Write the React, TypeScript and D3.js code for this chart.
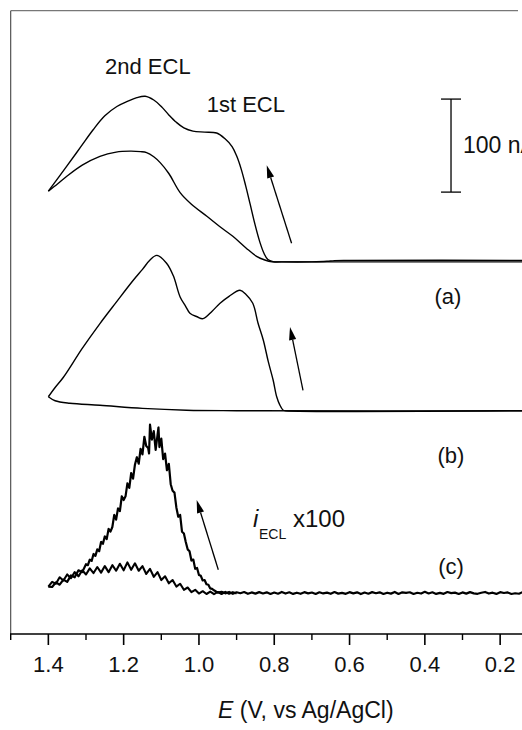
import React from "react";
import * as d3 from "d3";

// potential axis (V vs Ag/AgCl), drawn high -> low
const majorTicks = [1.4, 1.2, 1.0, 0.8, 0.6, 0.4, 0.2];
const minorTicks = [1.5, 1.3, 1.1, 0.9, 0.7, 0.5, 0.3];

// baseline of each stacked trace, in nA on the shared y scale
const traceOffsets = [400, 240, 44];
const scaleBarNA = 100;

// (a) forward scan (low -> high potential) and reverse scan
const aForward = [
  [0.10, 1.6], [0.60, 1.6], [0.64, 1.4], [0.66, 0.6], [0.70, 0], [0.78, 0], [0.803, 0.3],
  [0.817, 2.5], [0.827, 9], [0.838, 21], [0.851, 40], [0.864, 62], [0.876, 82], [0.888, 100],
  [0.90, 114], [0.912, 124], [0.93, 132], [0.953, 138.5], [0.985, 139.5], [1.016, 140.5],
  [1.04, 144], [1.06, 150], [1.08, 158], [1.10, 167], [1.12, 174], [1.143, 178], [1.165, 176.5],
  [1.19, 172.5], [1.218, 167], [1.25, 157], [1.281, 142], [1.315, 123], [1.351, 103], [1.40, 76],
];
const aReverse = [
  [1.40, 76], [1.375, 84], [1.351, 92], [1.31, 104], [1.263, 113.5], [1.22, 118], [1.183, 119],
  [1.155, 118.5], [1.139, 117.5], [1.12, 113], [1.103, 106.7], [1.08, 95], [1.05, 74.5],
  [1.02, 62], [0.979, 49], [0.945, 38], [0.91, 27.5], [0.875, 15], [0.847, 6], [0.825, 2],
  [0.806, 0], [0.78, 0], [0.10, 0],
];

// (b)
const bForward = [
  [0.10, 0], [0.77, 0], [0.776, 0.5], [0.785, 6], [0.7935, 15], [0.803, 33], [0.816, 53],
  [0.829, 75.8], [0.843, 94], [0.857, 115.6], [0.875, 125], [0.891, 129.5], [0.92, 123],
  [0.944, 115.6], [0.965, 107], [0.989, 99], [1.005, 101], [1.024, 104.8], [1.035, 112],
  [1.05, 122.3], [1.068, 145], [1.086, 158.6], [1.112, 167], [1.13, 162], [1.15, 152],
  [1.175, 140], [1.22, 116.5], [1.263, 93.7], [1.31, 67], [1.36, 36], [1.382, 25], [1.40, 15],
];
const bReverse = [
  [1.40, 15], [1.382, 10.7], [1.343, 8], [1.263, 5.9], [1.15, 2.5], [1.033, 0.5], [0.90, 0], [0.10, 0],
];

// (c) ECL intensity x100, noisy photon counts
const cForward = [
  [0.10, 0.3], [0.11, -0.8], [0.12, 0.9], [0.13, 0.2], [0.14, 1.1], [0.15, -0.7], [0.16, -0.2],
  [0.17, -1.0], [0.18, 0.7], [0.19, 0.1], [0.20, 1.0], [0.21, -0.9], [0.22, 0.4], [0.23, -0.5],
  [0.24, 1.2], [0.25, 0.3], [0.26, -0.8], [0.27, -0.3], [0.28, 1.0], [0.29, -0.6], [0.30, 0.7],
  [0.31, -1.0], [0.32, 0.5], [0.33, 0.0], [0.34, 1.1], [0.35, -0.8], [0.36, 0.2], [0.37, -0.9],
  [0.38, 0.9], [0.39, -0.4], [0.40, 1.3], [0.41, -0.5], [0.42, 0.3], [0.43, -1.0], [0.44, 0.9],
  [0.45, 0.2], [0.46, 0.8], [0.47, -0.9], [0.48, 1.2], [0.49, -0.6], [0.50, 0.4], [0.51, -1.0],
  [0.52, 0.8], [0.53, -0.2], [0.54, 1.0], [0.55, -0.7], [0.56, 0.6], [0.57, -1.1], [0.58, 0.8],
  [0.59, -0.3], [0.60, 1.0], [0.61, -0.8], [0.62, 0.2], [0.63, -0.6], [0.64, 1.1], [0.65, -0.8],
  [0.66, 0.5], [0.67, -0.4], [0.68, 0.9], [0.69, -1.0], [0.70, 0.6], [0.71, -0.3], [0.72, 1.0],
  [0.73, -0.8], [0.74, 0.4], [0.75, -0.9], [0.76, 0.8], [0.77, -0.5], [0.78, 1.2], [0.79, -0.7],
  [0.80, 0.6], [0.81, -1.0], [0.82, 0.8], [0.83, -0.4], [0.84, 1.0], [0.85, -0.6], [0.86, 0.7],
  [0.87, -0.8], [0.88, 1.1], [0.89, -0.2], [0.90, 0.9], [0.91, -0.8], [0.92, 1.2], [0.93, -0.3],
  [0.94, 1.4], [0.95, 0.5],
  [0.960, 3], [0.965, 4.5], [0.970, 5], [0.975, 9], [0.980, 9.5], [0.985, 14], [0.990, 13.5],
  [0.995, 18.5], [1.000, 19.5], [1.005, 27], [1.010, 26], [1.015, 36], [1.020, 35], [1.025, 45],
  [1.030, 47], [1.035, 55], [1.040, 64], [1.045, 66], [1.050, 84], [1.055, 82], [1.060, 92],
  [1.065, 108], [1.070, 110], [1.075, 117], [1.080, 139], [1.085, 132], [1.090, 150], [1.095, 144],
  [1.100, 166], [1.105, 157], [1.1075, 178], [1.110, 170], [1.115, 154], [1.120, 174], [1.125, 165],
  [1.130, 181], [1.1325, 150], [1.135, 156], [1.140, 158], [1.145, 168], [1.150, 149], [1.155, 155],
  [1.160, 139], [1.165, 146], [1.170, 138], [1.175, 123], [1.180, 129], [1.185, 113], [1.190, 118],
  [1.195, 104], [1.200, 100], [1.205, 104], [1.210, 88], [1.215, 91], [1.220, 79], [1.225, 84],
  [1.230, 71], [1.235, 66], [1.240, 69], [1.245, 58], [1.250, 61], [1.255, 53], [1.260, 55],
  [1.265, 45], [1.270, 47], [1.275, 40], [1.280, 42], [1.285, 34.5], [1.290, 36], [1.295, 30],
  [1.300, 31], [1.31, 22.5], [1.32, 24.5], [1.33, 17], [1.34, 19], [1.35, 12], [1.36, 14.5],
  [1.37, 9], [1.38, 11.5], [1.39, 6.5], [1.40, 7],
];
const cReverse = [
  [1.40, 7], [1.39, 12], [1.38, 10], [1.37, 17], [1.36, 13.5], [1.35, 20], [1.34, 16], [1.33, 22.5],
  [1.32, 18], [1.31, 24.5], [1.30, 20], [1.29, 26.5], [1.28, 21.5], [1.27, 28], [1.26, 22],
  [1.25, 29], [1.24, 22.5], [1.23, 30], [1.22, 24], [1.21, 31.5], [1.20, 24.5], [1.19, 33],
  [1.18, 25], [1.17, 32], [1.16, 24], [1.15, 29], [1.14, 20.5], [1.13, 26], [1.12, 17.5],
  [1.11, 22.5], [1.10, 14], [1.09, 18], [1.08, 10.5], [1.07, 14], [1.06, 7], [1.05, 10],
  [1.04, 3.5], [1.03, 6], [1.02, 1], [1.01, 3.5], [1.00, -0.5], [0.99, 2], [0.98, -1], [0.97, 1.5],
  [0.96, -1.2], [0.95, 1.2], [0.94, -1], [0.93, 1.3], [0.92, -0.8], [0.91, 1], [0.90, -0.5],
];

// scan-direction arrows: [tailE, tailI, tipE, tipI] (absolute nA)
const arrows = [
  [0.754, 420, 0.820, 504],
  [0.7236, 262, 0.7582, 330],
  [0.9486, 69, 1.006, 144],
];
const scaleBarE = 0.3305;
const scaleBarBottom = 475;

const W = 522, H = 730;
const FONT = "'Liberation Sans', Arial, Helvetica, sans-serif";

const Arrow = ({ x1, y1, x2, y2 }) => {
  const ang = Math.atan2(y2 - y1, x2 - x1);
  const len = 13, half = 3.6;
  const bx = x2 - len * Math.cos(ang), by = y2 - len * Math.sin(ang);
  const px = -Math.sin(ang) * half, py = Math.cos(ang) * half;
  return (
    <g>
      <line x1={x1} y1={y1} x2={bx} y2={by} stroke="#000" strokeWidth={1.3} />
      <path d={`M${x2},${y2}L${bx + px},${by + py}L${bx - px},${by - py}Z`} fill="#000" />
    </g>
  );
};

export default function App() {
  const x = d3.scaleLinear().domain([1.5, 0.1]).range([10.7, 10.7 + 1.4 * 376.5]);
  const y = d3.scaleLinear().domain([0, 670]).range([634, 10.7]);

  const smooth = (off) =>
    d3.line().x(d => x(d[0])).y(d => y(d[1] + off)).curve(d3.curveCatmullRom.alpha(0.5));
  const noisy = (off) => d3.line().x(d => x(d[0])).y(d => y(d[1] + off));

  const axisY = y(0);

  return (
    <svg width={W} height={H} style={{ position: "absolute", left: 0, top: 0, background: "#fff" }}
      fontFamily={FONT}>
      {/* frame */}
      <line x1={10.7} y1={10.7} x2={518} y2={10.7} stroke="#777" strokeWidth={1.2} />
      <line x1={10.7} y1={10.7} x2={10.7} y2={axisY} stroke="#444" strokeWidth={1.1} />
      <line x1={10} y1={axisY} x2={W} y2={axisY} stroke="#000" strokeWidth={1.6} />

      {majorTicks.map(t => (
        <g key={"M" + t}>
          <line x1={x(t)} x2={x(t)} y1={axisY} y2={axisY + 11} stroke="#000" strokeWidth={1.6} />
          <text x={x(t)} y={671.5} textAnchor="middle" fontSize={22} fill="#111">{d3.format(".1f")(t)}</text>
        </g>
      ))}
      {minorTicks.map(t => (
        <line key={"m" + t} x1={x(t)} x2={x(t)} y1={axisY} y2={axisY + 6} stroke="#000" strokeWidth={1.4} />
      ))}

      <text x={218} y={718} fontSize={23} fill="#111">
        <tspan fontStyle="italic">E</tspan> (V, vs Ag/AgCl)
      </text>

      {/* traces */}
      <path d={smooth(traceOffsets[0])(aForward)} fill="none" stroke="#000" strokeWidth={1.4} />
      <path d={smooth(traceOffsets[0])(aReverse)} fill="none" stroke="#000" strokeWidth={1.4} />
      <path d={smooth(traceOffsets[1])(bForward)} fill="none" stroke="#000" strokeWidth={1.4} />
      <path d={smooth(traceOffsets[1])(bReverse)} fill="none" stroke="#000" strokeWidth={1.4} />
      <path d={noisy(traceOffsets[2])(cForward)} fill="none" stroke="#000" strokeWidth={2.2} strokeLinejoin="round" />
      <path d={noisy(traceOffsets[2])(cReverse)} fill="none" stroke="#000" strokeWidth={2.1} strokeLinejoin="round" />

      {arrows.map((a, i) => (
        <Arrow key={i} x1={x(a[0])} y1={y(a[1])} x2={x(a[2])} y2={y(a[3])} />
      ))}

      {/* scale bar */}
      <g stroke="#000" strokeWidth={1.3}>
        <line x1={x(scaleBarE)} x2={x(scaleBarE)} y1={y(scaleBarBottom)} y2={y(scaleBarBottom + scaleBarNA)} />
        <line x1={x(scaleBarE) - 10} x2={x(scaleBarE) + 10} y1={y(scaleBarBottom)} y2={y(scaleBarBottom)} />
        <line x1={x(scaleBarE) - 10} x2={x(scaleBarE) + 10} y1={y(scaleBarBottom + scaleBarNA)} y2={y(scaleBarBottom + scaleBarNA)} />
      </g>
      <text x={463} y={153} fontSize={23} fill="#111">{scaleBarNA} nA</text>

      {/* annotations */}
      <text x={105} y={74} fontSize={22} fill="#111">2nd ECL</text>
      <text x={206.7} y={111.7} fontSize={22} fill="#111">1st ECL</text>
      <text x={448} y={304} fontSize={22} textAnchor="middle" fill="#111">(a)</text>
      <text x={451} y={462.7} fontSize={22} textAnchor="middle" fill="#111">(b)</text>
      <text x={451} y={573.7} fontSize={22} textAnchor="middle" fill="#111">(c)</text>
      <text x={253} y={526.7} fontSize={24} fill="#111">
        <tspan fontStyle="italic">i</tspan>
        <tspan x={259} y={538.5} fontSize={14}>ECL</tspan>
        <tspan x={293} y={526.7}>x100</tspan>
      </text>
    </svg>
  );
}
